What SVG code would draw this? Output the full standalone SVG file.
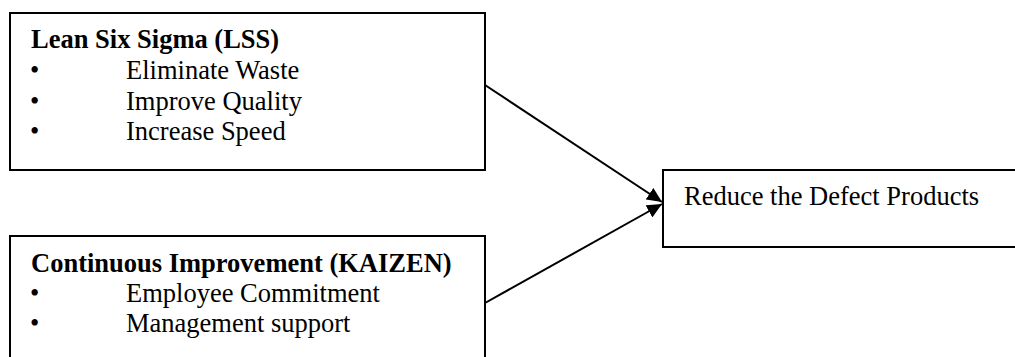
<svg xmlns="http://www.w3.org/2000/svg" width="1015" height="357" viewBox="0 0 1015 357">
<style>
.box{fill:#fff;stroke:#000;stroke-width:2}
.t{font-family:"Liberation Serif","Times New Roman",serif;font-size:26.5px;fill:#000}
.b{font-weight:bold}
.edge{stroke:#000;stroke-width:2;fill:none}
</style>
<defs>
<marker id="arr" markerUnits="userSpaceOnUse" markerWidth="16" markerHeight="14" refX="15" refY="7" orient="auto">
<path d="M0,0 L15,7 L0,14 Z" fill="#000"/>
</marker>
</defs>
<rect width="1015" height="357" fill="#fff"/>
<g id="connectors">
<line class="edge" x1="485" y1="85" x2="662" y2="202" marker-end="url(#arr)"/>
<line class="edge" x1="485" y1="303" x2="662" y2="204" marker-end="url(#arr)"/>
</g>
<g id="lss">
<rect class="box" x="10" y="13" width="475" height="157"/>
<text class="t b" x="31" y="48">Lean Six Sigma (LSS)</text>
<text class="t" x="30" y="79">•</text>
<text class="t" x="126" y="79">Eliminate Waste</text>
<text class="t" x="30" y="110">•</text>
<text class="t" x="126" y="110">Improve Quality</text>
<text class="t" x="30" y="140">•</text>
<text class="t" x="126" y="140">Increase Speed</text>
</g>
<g id="kaizen">
<rect class="box" x="10" y="236" width="475" height="130"/>
<text class="t b" x="31" y="272">Continuous Improvement (KAIZEN)</text>
<text class="t" x="30" y="302">•</text>
<text class="t" x="126" y="302">Employee Commitment</text>
<text class="t" x="30" y="332">•</text>
<text class="t" x="126" y="332">Management support</text>
</g>
<g id="reduce">
<rect class="box" x="663" y="170" width="370" height="77"/>
<text class="t" x="684" y="205">Reduce the Defect Products</text>
</g>
</svg>
